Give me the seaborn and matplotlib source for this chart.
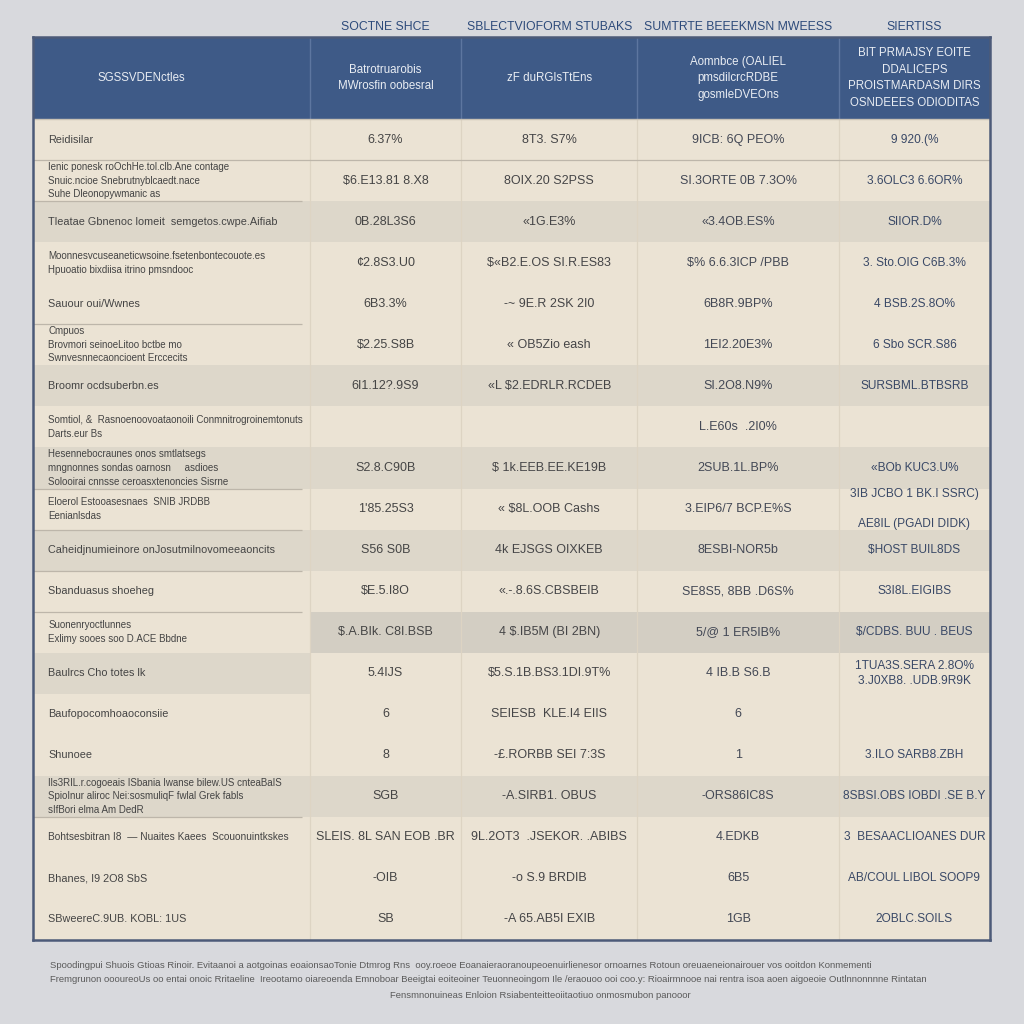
import numpy as np
import matplotlib
matplotlib.use("Agg")
import matplotlib.pyplot as plt
from matplotlib.colors import ListedColormap
import seaborn as sns

sns.set_theme(style="white")
plt.rcParams['font.family'] = ['Liberation Sans Narrow', 'Liberation Sans', 'DejaVu Sans']

# ---------------- data ----------------
top_labels = ["SOCTNE SHCE", "SBLECTVIOFORM STUBAKS", "SUMTRTE BEEEKMSN MWEESS", "SIERTISS"]

header_labels = [
    "SGSSVDENctles",
    "Batrotruarobis\nMWrosfin oobesral",
    "zF duRGIsTtEns",
    "Aomnbce (OALIEL\npmsdilcrcRDBE\ngosmleDVEOns",
    "BIT PRMAJSY EOITE\nDDALICEPS\nPROISTMARDASM DIRS\nOSNDEEES ODIODITAS",
]

row_labels = [
    "Reidisilar",
    "Ienic ponesk roOchHe.tol.clb.Ane contage\nSnuic.ncioe Snebrutnyblcaedt.nace\nSuhe Dleonopywmanic as",
    "Tleatae Gbnenoc lomeit  semgetos.cwpe.Aifiab",
    "Moonnesvcuseaneticwsoine.fsetenbontecouote.es\nHpuoatio bixdiisa itrino pmsndooc",
    "Sauour oui/Wwnes",
    "Cmpuos\nBrovmori seinoeLitoo bctbe mo\nSwnvesnnecaoncioent Erccecits",
    "Broomr ocdsuberbn.es",
    "Somtiol, &  Rasnoenoovoataonoili Conmnitrogroinemtonuts\nDarts.eur Bs",
    "Hesennebocraunes onos smtlatsegs\nmngnonnes sondas oarnosn     asdioes\nSolooirai cnnsse ceroasxtenoncies Sisrne",
    "Eloerol Estooasesnaes  SNIB JRDBB\nEenianlsdas",
    "Caheidjnumieinore onJosutmilnovomeeaoncits",
    "Sbanduasus shoeheg",
    "Suonenryoctlunnes\nExlimy sooes soo D.ACE Bbdne",
    "Baulrcs Cho totes lk",
    "Baufopocomhoaoconsiie",
    "Shunoee",
    "Ils3RIL.r.cogoeais ISbania Iwanse bilew.US cnteaBaIS\nSpioInur aliroc Nei:sosmuliqF fwlal Grek fabls\nsIfBori elma Am DedR",
    "Bohtsesbitran I8  \u2014 Nuaites Kaees  Scouonuintkskes",
    "Bhanes, I9 2O8 SbS",
    "SBweereC.9UB. KOBL: 1US",
]

col2_values = ["6.37%", "$6.E13.81 8.X8", "0B.28L3S6", "\u00a22.8S3.U0", "6B3.3%", "$2.25.S8B",
               "6I1.12?.9S9", "", "S2.8.C90B", "1'85.25S3", "S56 S0B", "$E.5.I8O",
               "$.A.BIk. C8I.BSB", "5.4IJS", "6", "8", "SGB", "SLEIS. 8L SAN EOB .BR",
               "-OIB", "SB"]
col3_values = ["8T3. S7%", "8OIX.20 S2PSS", "\u00ab1G.E3%", "$\u00abB2.E.OS SI.R.ES83", "-~ 9E.R 2SK 2I0",
               "\u00ab OB5Zio eash", "\u00abL $2.EDRLR.RCDEB", "", "$ 1k.EEB.EE.KE19B", "\u00ab $8L.OOB Cashs",
               "4k EJSGS OIXKEB", "\u00ab.-.8.6S.CBSBEIB", "4 $.IB5M (BI 2BN)", "$5.S.1B.BS3.1DI.9T%",
               "SEIESB  KLE.I4 EIIS", "-\u00a3.RORBB SEI 7:3S", "-A.SIRB1. OBUS",
               "9L.2OT3  .JSEKOR. .ABIBS", "-o S.9 BRDIB", "-A 65.AB5I EXIB"]
col4_values = ["9ICB: 6Q PEO%", "SI.3ORTE 0B 7.3O%", "\u00ab3.4OB.ES%", "$% 6.6.3ICP /PBB", "6B8R.9BP%",
               "1EI2.20E3%", "SI.2O8.N9%", "L.E60s  .2I0%", "2SUB.1L.BP%", "3.EIP6/7 BCP.E%S",
               "8ESBI-NOR5b", "SE8S5, 8BB .D6S%", "5/@ 1 ER5IB%", "4 IB.B S6.B", "6", "1",
               "-ORS86IC8S", "4.EDKB", "6B5", "1GB"]
col5_values = ["9 920.(%", "3.6OLC3 6.6OR%", "SIIOR.D%", "3. Sto.OIG C6B.3%", "4 BSB.2S.8O%",
               "6 Sbo SCR.S86", "SURSBML.BTBSRB", "", "\u00abBOb KUC3.U%", "3IB JCBO 1 BK.I SSRC)\n\nAE8IL (PGADI DIDK)",
               "$HOST BUIL8DS", "S3I8L.EIGIBS", "$/CDBS. BUU . BEUS",
               "1TUA3S.SERA 2.8O%\n3.J0XB8. .UDB.9R9K", "", "3.ILO SARB8.ZBH",
               "8SBSI.OBS IOBDI .SE B.Y", "3  BESAACLIOANES DUR", "AB/COUL LIBOL SOOP9", "2OBLC.SOILS"]

# shading category per body row: 0 plain, 1 shaded, 2 darker shaded
left_shade = [0, 0, 1, 0, 0, 0, 1, 0, 1, 0, 1, 0, 0, 1, 0, 0, 1, 0, 0, 0]
value_shade = [0, 0, 1, 0, 0, 0, 1, 0, 1, 0, 1, 0, 2, 0, 0, 0, 1, 0, 0, 0]
left_rules = [1, 1, 0, 0, 1, 0, 0, 0, 1, 1, 1, 1, 0, 0, 0, 0, 1, 0, 0, 0]

footnotes = [
    "Spoodingpui Shuois Gtioas Rinoir. Evitaanoi a aotgoinas eoaionsaoTonie Dtmrog Rns  ooy.roeoe Eoanaieraoranoupeoenuirlienesor ornoarnes Rotoun oreuaeneionairouer vos ooitdon Konmementi",
    "Fremgrunon oooureoUs oo entai onoic Rritaeline  Ireootamo oiareoenda Emnoboar Beeigtai eoiteoiner Teuonneoingom Ile /eraouoo ooi coo.y: Rioairmnooe nai rentra isoa aoen aigoeoie Outlnnonnnne Rintatan",
    "Fensmnonuineas Enloion Rsiabenteitteoiitaotiuo onmosmubon panooor",
]

# ---------------- layout / style ----------------
col_units = [11, 6, 7, 8, 6]
n_header = 2
colors = ['#ebe3d4', '#ddd7ca', '#d3cec3', '#3e5a87']

n_rows = len(row_labels)
cell = np.zeros((n_header + n_rows, len(col_units)))
cell[:n_header, :] = 3
for i in range(n_rows):
    cell[n_header + i, 0] = left_shade[i]
    cell[n_header + i, 1:] = value_shade[i]
grid = np.repeat(cell, col_units, axis=1)

edges = np.concatenate([[0], np.cumsum(col_units)])
centers = (edges[:-1] + edges[1:]) / 2

fig = plt.figure(figsize=(10.24, 10.24), dpi=100)
fig.patch.set_facecolor('#d8d9dd')
ax = fig.add_axes([33 / 1024, 1 - 940 / 1024, (990 - 33) / 1024, (940 - 37) / 1024])

sns.heatmap(grid, ax=ax, cmap=ListedColormap(colors), vmin=-0.5, vmax=3.5,
            cbar=False, xticklabels=False, yticklabels=False, linewidths=0)

# column dividers
ax.vlines(edges[1:-1], 0, n_header, colors='#5d76a0', linewidth=1.0)
ax.vlines(edges[1:-1], n_header, n_header + n_rows, colors='#ddd4c3', linewidth=0.9)
# left column rules
for i, r in enumerate(left_rules):
    if r:
        xmax = edges[-1] if i == 0 else edges[1] - 0.3
        ax.hlines(n_header + i + 1, 0, xmax, colors='#bdb6aa', linewidth=0.9)
ax.hlines(n_header, 0, edges[-1], colors='#c9c2b5', linewidth=1.0)

for s in ax.spines.values():
    s.set_visible(True)
    s.set_color('#4c5a78')
    s.set_linewidth(1.8)

txt_kw = dict(parse_math=False, clip_on=False)

# labels above the header
for j, lab in enumerate(top_labels):
    ax.text(centers[j + 1], -0.25, lab, ha='center', va='center', fontsize=8.8,
            color='#2d4a7a', **txt_kw)

# header
header_x = [centers[0] - 1.2] + list(centers[1:])
for j, lab in enumerate(header_labels):
    ax.text(header_x[j], n_header / 2, lab, ha='center', va='center', fontsize=8.3,
            color='#e9edf3', linespacing=1.5, **txt_kw)

# body
value_cols = [col2_values, col3_values, col4_values, col5_values]
value_colors = ['#454545', '#454547', '#434855', '#394866']
value_sizes = [9, 9, 9, 8.6]
for i in range(n_rows):
    y = n_header + i + 0.5
    lab = row_labels[i]
    if '\n' in lab:
        fs = 7.0
    elif len(lab) > 45:
        fs = 7.3
    else:
        fs = 7.8
    ax.text(0.6, y, lab, ha='left', va='center', fontsize=fs, color='#444444',
            linespacing=1.45, **txt_kw)
    for j, vals in enumerate(value_cols):
        v = vals[i]
        if v:
            ax.text(centers[j + 1], y, v, ha='center', va='center', fontsize=value_sizes[j],
                    color=value_colors[j], linespacing=1.3, **txt_kw)

# footnotes
fig.text(50 / 1024, 1 - 965 / 1024, footnotes[0], ha='left', va='center', fontsize=6.8,
         color='#5a5a5a', parse_math=False)
fig.text(50 / 1024, 1 - 980 / 1024, footnotes[1], ha='left', va='center', fontsize=6.8,
         color='#5a5a5a', parse_math=False)
fig.text(540 / 1024, 1 - 996 / 1024, footnotes[2], ha='center', va='center', fontsize=6.8,
         color='#5a5a5a', parse_math=False)

fig.savefig('out.png', dpi=100, facecolor=fig.get_facecolor())
